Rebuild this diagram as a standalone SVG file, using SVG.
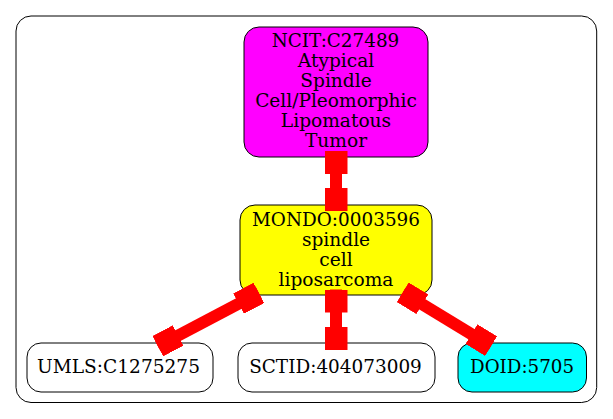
<svg xmlns="http://www.w3.org/2000/svg" width="613" height="419" viewBox="0 0 613 419">
<style>
.node rect{stroke:#000;stroke-width:1}
.node text{font-family:"DejaVu Serif",serif;font-size:18.6px;text-anchor:middle;fill:#000}
.edge{stroke:#ff0000;stroke-width:12;fill:none;marker-start:url(#box);marker-end:url(#box)}
</style>
<defs>
<marker id="box" markerUnits="userSpaceOnUse" markerWidth="23" markerHeight="23" viewBox="0 0 23 23" refX="23" refY="11.5" orient="auto-start-reverse">
<rect x="0" y="0" width="23" height="23" fill="#ff0000"/>
</marker>
</defs>
<rect width="613" height="419" fill="#fff"/>
<g id="cluster">
<rect x="16" y="16" width="580.7" height="386.5" rx="15" fill="none" stroke="#000" stroke-width="1"/>
</g>
<g id="NCIT_C27489" class="node">
<rect x="244" y="27" width="184" height="130" rx="15" fill="#ff00ff"/>
<text x="335.5" y="47" textLength="127.6" lengthAdjust="spacingAndGlyphs">NCIT:C27489</text>
<text x="336" y="67">Atypical</text>
<text x="336" y="87">Spindle</text>
<text x="336" y="107" textLength="161.7" lengthAdjust="spacingAndGlyphs">Cell/Pleomorphic</text>
<text x="336" y="127">Lipomatous</text>
<text x="336" y="147">Tumor</text>
</g>
<g id="MONDO_0003596" class="node">
<rect x="240" y="205" width="192" height="90" rx="15" fill="#ffff00"/>
<text x="336" y="226" textLength="168" lengthAdjust="spacingAndGlyphs">MONDO:0003596</text>
<text x="336" y="246">spindle</text>
<text x="336" y="266">cell</text>
<text x="336" y="286">liposarcoma</text>
</g>
<g id="UMLS_C1275275" class="node">
<rect x="27" y="343" width="186" height="49" rx="14" fill="#ffffff"/>
<text x="118.5" y="373" textLength="163" lengthAdjust="spacingAndGlyphs">UMLS:C1275275</text>
</g>
<g id="SCTID_404073009" class="node">
<rect x="238" y="343" width="197" height="49" rx="14" fill="#ffffff"/>
<text x="335.5" y="373" textLength="172.7" lengthAdjust="spacingAndGlyphs">SCTID:404073009</text>
</g>
<g id="DOID_5705" class="node">
<rect x="458" y="343" width="128.5" height="49" rx="14" fill="#00ffff"/>
<text x="522" y="373" textLength="104" lengthAdjust="spacingAndGlyphs">DOID:5705</text>
</g>
<g id="connectors">
<line class="edge" x1="336" y1="151" x2="336" y2="211"/>
<line class="edge" x1="336" y1="289.5" x2="336" y2="350"/>
<line class="edge" x1="258.9" y1="292.9" x2="157.8" y2="346.2"/>
<line class="edge" x1="402.7" y1="292.3" x2="491.1" y2="346.1"/>
</g>
</svg>
